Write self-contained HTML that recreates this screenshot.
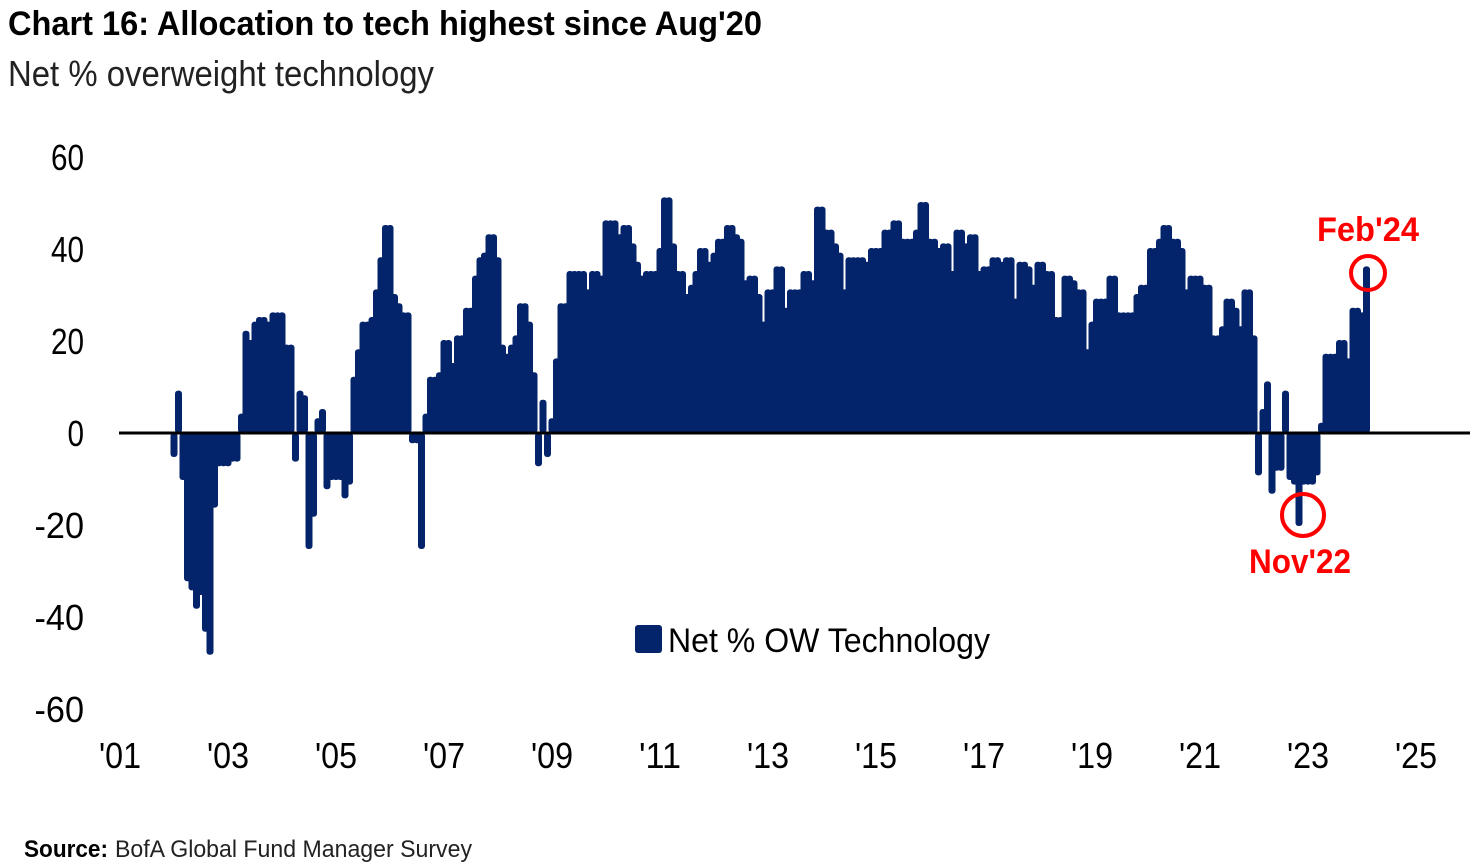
<!DOCTYPE html>
<html><head><meta charset="utf-8"><style>
html,body{margin:0;padding:0;background:#fff;}
svg{display:block;font-family:"Liberation Sans",sans-serif;}
</style></head><body>
<svg id="chart" width="1479" height="868" viewBox="0 0 1479 868">
<text x="8" y="35" font-size="34" font-weight="bold" fill="#000" textLength="754" lengthAdjust="spacingAndGlyphs">Chart 16: Allocation to tech highest since Aug'20</text>
<text x="8" y="86" font-size="36" fill="#222" textLength="426" lengthAdjust="spacingAndGlyphs">Net % overweight technology</text>
<g id="yaxis"></g>
<g id="xaxis"></g>
<g id="bars"></g>
<line x1="119" y1="433" x2="1470" y2="433" stroke="#000" stroke-width="3"/>
<rect x="635" y="625" width="27" height="28" rx="3" fill="#03236a"/>
<text x="668" y="652" font-size="34" fill="#000" textLength="322" lengthAdjust="spacingAndGlyphs">Net % OW Technology</text>
<g id="annot"></g>
<text x="24" y="857" font-size="24" font-weight="bold" fill="#000" textLength="84" lengthAdjust="spacingAndGlyphs">Source:</text>
<text x="115" y="857" font-size="24" fill="#222" textLength="357" lengthAdjust="spacingAndGlyphs">BofA Global Fund Manager Survey</text>
</svg>
<script>
const startYear = 2002;
const values2002_2005 = [-5,9,-10,-32,-34,-38,-35,-43,-48,-16,-7,-7,
 -7,-6,-6,4,22,20,24,25,25,24,26,26,
 26,19,19,-6,9,8,-25,-18,3,5,-12,-10,
 -10,-10,-14,-11,12,18,24,24,25,31,38,45];
const values2006_2009 = [45,30,28,26,26,-2,-2,-25,4,12,12,13,
 20,20,15,21,21,27,27,34,38,39,43,43,
 38,19,17,19,21,28,28,24,13,-7,7,-5,
 3,16,28,28,35,35,35,35,31,35,35,34];
const values2010_2013 = [46,46,46,43,45,45,41,37,34,35,35,35,
 40,51,51,41,35,35,30,32,35,40,40,37,
 39,42,42,45,45,43,42,33,34,34,30,24,
 31,31,36,36,27,31,31,31,35,35,33,49];
const values2014_2017 = [49,44,44,41,39,31,38,38,38,38,37,40,
 40,40,44,44,46,46,42,42,42,44,50,50,
 42,42,40,41,41,35,44,44,41,43,43,35,
 36,36,38,38,37,38,38,29,37,37,36,32];
const values2018_2021 = [37,37,35,35,25,25,34,34,33,31,31,18,
 24,29,29,29,34,34,26,26,26,26,30,32,
 32,40,40,42,45,45,42,42,40,31,34,34,
 34,32,32,21,21,23,29,29,27,23,31,31];
const values2022_2024 = [21,-9,5,11,-13,-8,-8,9,-10,-11,-20,-11,
 -11,-11,-9,2,17,17,17,20,20,16,27,27,
 26,36];
const values = [].concat(values2002_2005, values2006_2009, values2010_2013, values2014_2017, values2018_2021, values2022_2024);
const yTicks = [60,40,20,0,-20,-40,-60];
const xTickLabels = ["'01","'03","'05","'07","'09","'11","'13","'15","'17","'19","'21","'23","'25"];
const xTickYears = [2001,2003,2005,2007,2009,2011,2013,2015,2017,2019,2021,2023,2025];

const NS = "http://www.w3.org/2000/svg";
function xScale(yearFrac){ return 120 + (yearFrac-2001)*54; }
function yScale(v){ return 433 - v*4.6; }

const yg = document.getElementById('yaxis');
yTicks.forEach(t=>{
  const el = document.createElementNS(NS,'text');
  el.setAttribute('x',84); el.setAttribute('y',yScale(t)+13);
  el.setAttribute('text-anchor','end'); el.setAttribute('font-size','36');
  el.setAttribute('textLength', String(t).length*16.5);
  el.setAttribute('lengthAdjust','spacingAndGlyphs');
  
  
  el.textContent = t; yg.appendChild(el);
});
const xg = document.getElementById('xaxis');
xTickLabels.forEach((lab,i)=>{
  const el = document.createElementNS(NS,'text');
  el.setAttribute('x',xScale(xTickYears[i])); el.setAttribute('y',768);
  el.setAttribute('text-anchor','middle'); el.setAttribute('font-size','36');
  el.setAttribute('textLength',42); el.setAttribute('lengthAdjust','spacingAndGlyphs');
  
  
  el.textContent = lab; xg.appendChild(el);
});
const bg = document.getElementById('bars');
values.forEach((v,i)=>{
  const cx = xScale(startYear + i/12);
  const y0 = yScale(0), y1 = yScale(v);
  const r = document.createElementNS(NS,'rect');
  r.setAttribute('x',cx-3.5); r.setAttribute('width',7);
  r.setAttribute('y',Math.min(y0,y1)-(v>=0?1:0)); r.setAttribute('height',Math.abs(y1-y0)+1);
  r.setAttribute('rx',3); r.setAttribute('fill','#03236a');
  
  
  bg.appendChild(r);
});
const ag = document.getElementById('annot');
function annot(idx,label,ly,cy,rad,lx,dx){
  const cx = xScale(startYear + idx/12);
  const c = document.createElementNS(NS,'circle');
  c.setAttribute('cx',cx+dx); c.setAttribute('cy',cy); c.setAttribute('r',rad);
  c.setAttribute('fill','none'); c.setAttribute('stroke','#f00'); c.setAttribute('stroke-width','4');
  
  
  ag.appendChild(c);
  const t = document.createElementNS(NS,'text');
  t.setAttribute('x',lx); t.setAttribute('y',ly); t.setAttribute('font-size','34');
  t.setAttribute('font-weight','bold'); t.setAttribute('fill','#f00');
  t.setAttribute('textLength',102); t.setAttribute('lengthAdjust','spacingAndGlyphs');
  
  
  t.textContent = label; ag.appendChild(t);
}
annot(values.length-1,"Feb'24",241,273,17,1317,1.5);
annot(values.length-16,"Nov'22",573,515,21,1249,4);
</script>
</body></html>
